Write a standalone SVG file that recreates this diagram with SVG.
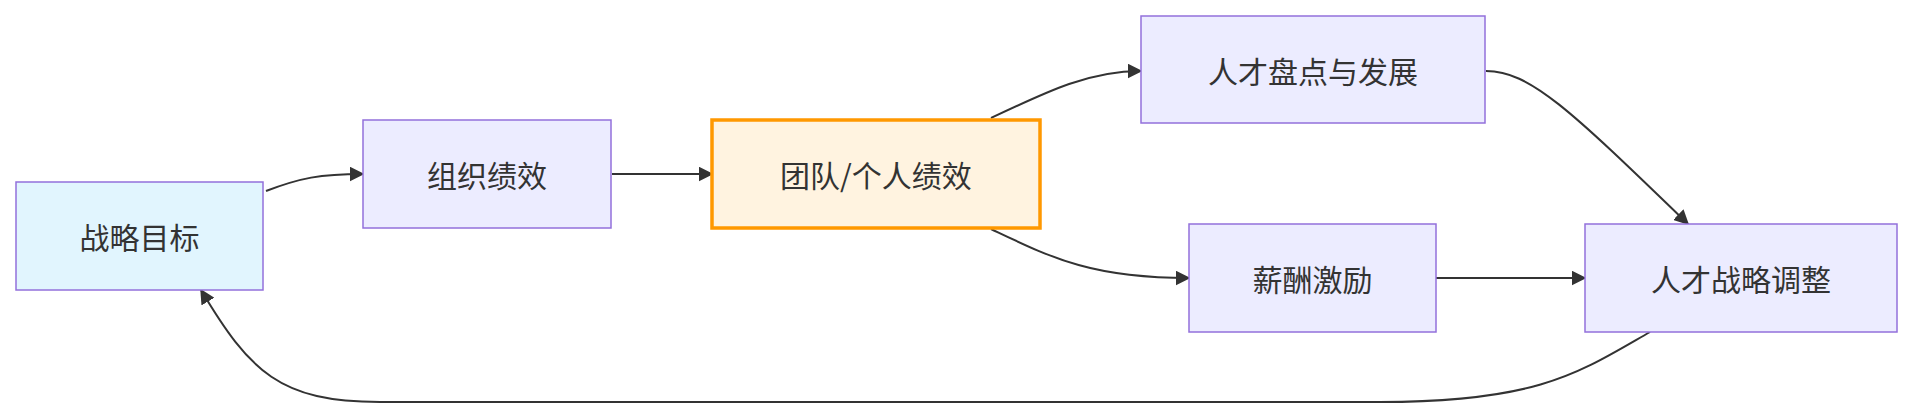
<svg xmlns="http://www.w3.org/2000/svg" width="1912" height="418" viewBox="0 0 1912 418">
<style>
.n{fill:#ECECFF;stroke:#9370DB;stroke-width:1.5}
.t{font-family:"Noto Sans CJK SC","Liberation Sans",sans-serif;font-size:30px;fill:#333;text-anchor:middle;dominant-baseline:central}
.e{fill:none;stroke:#333;stroke-width:2}
</style>
<defs><marker id="a" viewBox="0 0 10 10" refX="9" refY="5" markerWidth="15" markerHeight="15" markerUnits="userSpaceOnUse" orient="auto"><path d="M0,0L10,5L0,10z" fill="#333"/></marker></defs>
<rect width="1912" height="418" fill="#fff"/>
<g id="edges">
<path class="e" marker-end="url(#a)" d="M266,191 C300,178 320,174 363,174"/>
<path class="e" marker-end="url(#a)" d="M612,174 L712,174"/>
<path class="e" marker-end="url(#a)" d="M991,118 C1050,90 1090,71 1141,71"/>
<path class="e" marker-end="url(#a)" d="M991,229 C1050,257 1090,278 1189,278"/>
<path class="e" marker-end="url(#a)" d="M1436,278 L1585,278"/>
<path class="e" marker-end="url(#a)" d="M1486,71 C1530,71 1570,110 1688,224"/>
<path class="e" marker-end="url(#a)" d="M1650,332 C1580,372 1540,402 1380,402 L380,402 C280,402 250,372 201,290"/>
</g>
<g id="n1"><rect x="16" y="182" width="247" height="108" fill="#E1F5FE" stroke="#9370DB" stroke-width="1.5"/><text class="t" x="139.5" y="236">战略目标</text></g>
<g id="n2"><rect class="n" x="363" y="120" width="248" height="108"/><text class="t" x="487" y="174">组织绩效</text></g>
<g id="n3"><rect x="712" y="120" width="328" height="108" fill="#FFF3E0" stroke="#FF9800" stroke-width="3.5"/><text class="t" x="876" y="174">团队/个人绩效</text></g>
<g id="n4"><rect class="n" x="1141" y="16" width="344" height="107"/><text class="t" x="1313" y="70">人才盘点与发展</text></g>
<g id="n5"><rect class="n" x="1189" y="224" width="247" height="108"/><text class="t" x="1312.5" y="278">薪酬激励</text></g>
<g id="n6"><rect class="n" x="1585" y="224" width="312" height="108"/><text class="t" x="1741" y="278">人才战略调整</text></g>
</svg>
